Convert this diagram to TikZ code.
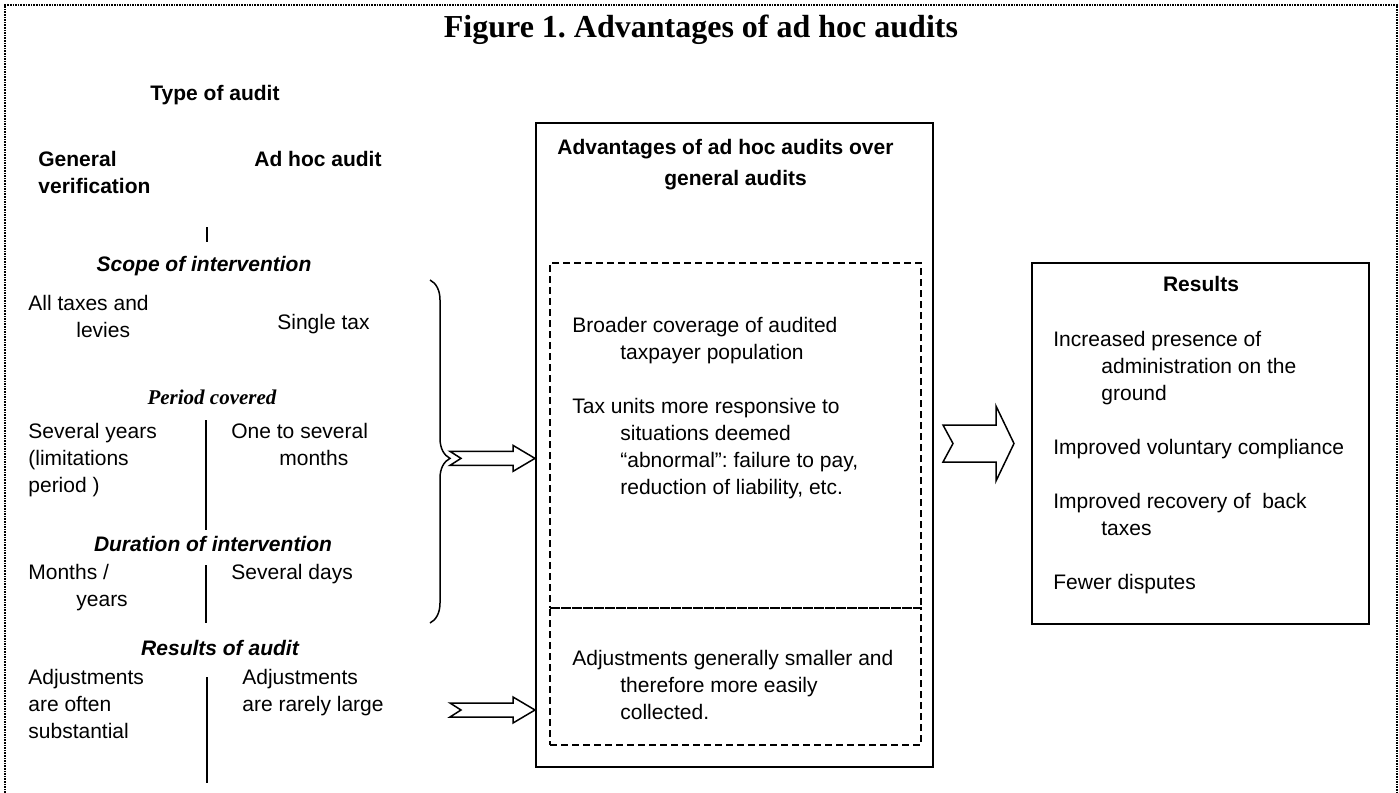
\documentclass[tikz,border=0pt]{standalone}
\usepackage{fontspec}
\setmainfont{Liberation Sans}
\newfontfamily\serifbold{Liberation Serif}
\usepackage{tikz}
\usetikzlibrary{calc,fit,decorations.pathreplacing}
\frenchspacing
\def\bodyfont{\fontsize{10.5}{13.5}\selectfont}
\def\hang{\hspace*{24pt}}
% notched block arrow: tail, tip, shaft half, head half, head length, notch
\newcommand{\fatarrow}[6]{%
  \draw[arrowline] let \p1=(#1), \p2=(#2) in
    (\x1,\y1+#3) -- (\x2-#5,\y1+#3) -- (\x2-#5,\y1+#4) -- (\x2,\y1)
    -- (\x2-#5,\y1-#4) -- (\x2-#5,\y1-#3) -- (\x1,\y1-#3) -- (\x1+#6,\y1) -- cycle;}

\begin{document}
\begin{tikzpicture}[
	x=0.5pt, y=-0.5pt,
	every node/.style={inner sep=0pt, font=\bodyfont},
	txt/.style={anchor=base west, align=left},
	head/.style={anchor=base, font=\bodyfont\bfseries},
	subhead/.style={anchor=base, font=\bodyfont\bfseries\itshape},
	solidbox/.style={draw, line width=1pt, inner sep=0pt},
	dashbox/.style={draw, line width=0.75pt, dash pattern=on 3.5pt off 2pt, inner sep=0pt},
	divider/.style={line width=0.75pt},
	frame/.style={line width=0.6pt, dash pattern=on 0.8pt off 0.5pt},
	arrowline/.style={draw, line width=0.75pt, fill=white, line join=miter}
	]
	\useasboundingbox (0,0) rectangle (1399,793);
	\draw[frame] (5,793) -- (5,5) -- (1397,5) -- (1397,793);
	\node[anchor=base, font=\serifbold\fontsize{16}{19}\selectfont\bfseries] (title) at (701,37) {Figure 1. Advantages of ad hoc audits};

	% left column: the two kinds of audit (multi-line nodes sit on their last line)
	\node[head] (type) at (215,100) {Type of audit};
	\node[txt, font=\bodyfont\bfseries] (general) at (38,193) {General\\verification};
	\node[txt, font=\bodyfont\bfseries] (adhoc) at (254,166) {Ad hoc audit};
	\draw[divider] (207,227) -- (207,242);
	\node[subhead] (scope) at (204,271) {Scope of intervention};
	\node[txt] (alltax) at (28,337) {All taxes and\\\hang levies};
	\node[txt] (single) at (277,329) {Single tax};
	\node[anchor=base, font=\serifbold\bodyfont\bfseries\itshape] (period) at (212,404) {Period covered};
	\node[txt] (sevyears) at (28,492) {Several years\\(limitations\\period )};
	\node[txt] (onetosev) at (231,465) {One to several\\\hang months};
	\draw[divider] (206,420) -- (206,530);
	\node[subhead] (duration) at (213,551) {Duration of intervention};
	\node[txt] (months) at (28,606) {Months /\\\hang years};
	\node[txt] (sevdays) at (231,579) {Several days};
	\draw[divider] (206,565) -- (206,623);
	\node[subhead] (resaudit) at (220,655) {Results of audit};
	\node[txt] (adjoften) at (28,738) {Adjustments\\are often\\substantial};
	\node[txt] (adjrare) at (242,711) {Adjustments\\are rarely large};
	\draw[divider] (207,677) -- (207,783);

	% middle box
	\node[solidbox, fit={(536,123) (933,767)}] (midbox) {};
	\node[txt, font=\bodyfont\bfseries] (advhead) at (557,185) {Advantages of ad hoc audits over\\[2pt]\hspace*{53.5pt}general audits};
	\node[dashbox, fit={(550,263) (921,608)}] (topadv) {};
	\node[dashbox, fit={(550,608) (921,745)}] (botadv) {};
	\node[txt] (coverage) at (572,359) {Broader coverage of audited\\\hang taxpayer population};
	\node[txt] (units) at (572,494) {Tax units more responsive to\\\hang situations deemed\\\hang “abnormal”: failure to pay,\\\hang reduction of liability, etc.};
	\node[txt] (smaller) at (572,719) {Adjustments generally smaller and\\\hang therefore more easily\\\hang collected.};

	% results box
	\node[solidbox, fit={(1032,263) (1369,624)}] (resbox) {};
	\node[head] (restitle) at (1201,291) {Results};
	\node[txt] (presence) at (1053,400) {Increased presence of\\\hang administration on the\\\hang ground};
	\node[txt] (voluntary) at (1053,454) {Improved voluntary compliance};
	\node[txt] (recovery) at (1053,535) {Improved recovery of\ \ back\\\hang taxes};
	\node[txt] (disputes) at (1053,589) {Fewer disputes};

	% brace and arrows
	\coordinate (bracetop) at (430,280);
	\coordinate (bracebot) at (430,623);
	\draw[line width=0.75pt, decorate, decoration={brace, amplitude=10pt, aspect=0.52}] (bracetop) -- (bracebot);
	\coordinate (bracetip) at ($(bracetop)!0.52!(bracebot)+(20,0)$);
	\coordinate (adjtail) at (450,710);
	\coordinate (restail) at ($(midbox.east |- resbox.west)+(9,0)$);
	\coordinate (restip) at ($(resbox.west)+(-17,0)$);
	\fatarrow{bracetip}{midbox.west |- bracetip}{3.5pt}{6.5pt}{11pt}{5.5pt}
	\fatarrow{adjtail}{midbox.west |- adjtail}{3.5pt}{6.5pt}{11pt}{5.5pt}
	\fatarrow{restail}{restip}{9.25pt}{18.75pt}{9pt}{5pt}
\end{tikzpicture}
\end{document}
